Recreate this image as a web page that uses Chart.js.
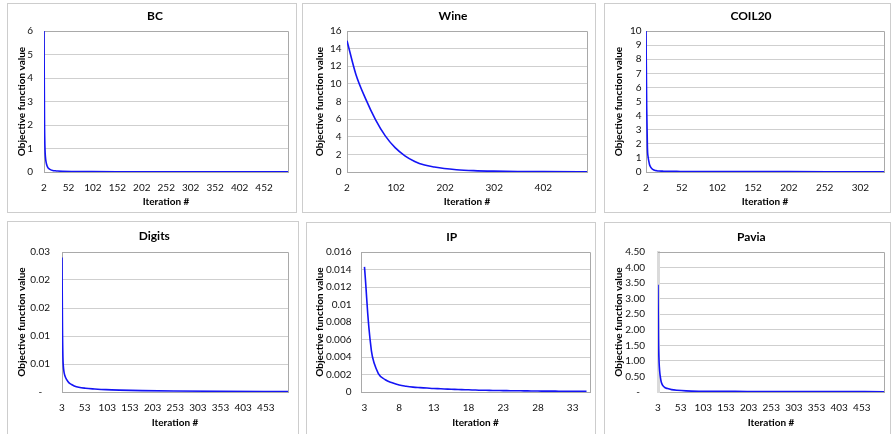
<!DOCTYPE html>
<html>
<head>
<meta charset="utf-8">
<script src="https://cdn.jsdelivr.net/npm/chart.js@4.4.1/dist/chart.umd.min.js"></script>
<style>
  html, body { margin: 0; padding: 0; background: #fff; }
  body { width: 892px; height: 434px; position: relative; overflow: hidden; }
  .panel { position: absolute; border: 1px solid #cdcdcd; background: #fff; }
  .panel canvas { position: absolute; left: 0; top: 0; }
</style>
</head>
<body>
<script>
// objective function value per iteration, one pair of arrays per dataset
var bcIter = [2, 3, 4, 5, 6, 7, 8, 10, 12, 15, 20, 25, 30, 40, 60, 100, 150, 200, 300, 400, 501];
var bcObj = [6.0, 2.2, 1.0, 0.62, 0.45, 0.35, 0.28, 0.19, 0.14, 0.1, 0.065, 0.05, 0.04, 0.03, 0.022, 0.016, 0.012, 0.01, 0.008, 0.007, 0.006];

var wineIter = [2, 20, 40, 60, 80, 100, 120, 140, 160, 180, 200, 225, 260, 300, 350, 400, 491];
var wineObj = [14.9, 11.1, 8.3, 5.95, 4.1, 2.76, 1.84, 1.2, 0.79, 0.56, 0.39, 0.26, 0.16, 0.1, 0.06, 0.04, 0.03];

var coilIter = [2, 3, 4, 5, 6, 7, 8, 9, 10, 12, 14, 17, 20, 25, 30, 50, 100, 200, 335];
var coilObj = [10, 4.5, 1.7, 1.05, 0.75, 0.52, 0.4, 0.31, 0.25, 0.17, 0.12, 0.09, 0.07, 0.06, 0.05, 0.04, 0.03, 0.025, 0.02];

var digitsIter = [3, 4, 5, 6, 7, 8, 10, 13, 18, 24, 30, 40, 55, 75, 100, 130, 180, 250, 350, 502];
var digitsObj = [0.0288, 0.014, 0.0075, 0.0055, 0.0046, 0.004, 0.0033, 0.0027, 0.002, 0.0016, 0.0013, 0.001, 0.0008, 0.00065, 0.0005, 0.0004, 0.0003, 0.00022, 0.00015, 0.0001];

var ipIter = [3, 4, 5, 6, 7, 8, 9, 10, 11, 12, 13, 14, 15, 16, 17, 18, 19, 20, 21, 22, 23, 24, 25, 26, 27, 28, 29, 30, 31, 32, 33, 34, 35];
var ipObj = [0.0143, 0.0047, 0.0021, 0.0014, 0.00105, 0.0008, 0.00066, 0.00056, 0.0005, 0.00045, 0.0004, 0.00037, 0.00033, 0.0003, 0.00027, 0.00025, 0.00022, 0.0002, 0.00019, 0.00017, 0.00016, 0.00015, 0.00014, 0.00013, 0.00012, 0.00011, 0.0001, 0.0001, 0.00009, 0.00009, 0.00008, 0.00008, 0.00007];

var paviaIter = [3, 4, 5, 6, 7, 8, 10, 13, 18, 24, 33, 45, 65, 100, 200, 300, 502];
var paviaObj = [3.45, 1.7, 1.1, 0.8, 0.62, 0.5, 0.33, 0.22, 0.145, 0.11, 0.077, 0.055, 0.035, 0.025, 0.018, 0.014, 0.01];

// x-axis tick labels (iteration #)
var bcXTicks = [2, 52, 102, 152, 202, 252, 302, 352, 402, 452];
var wineXTicks = [2, 102, 202, 302, 402];
var coilXTicks = [2, 52, 102, 152, 202, 252, 302];
var digitsXTicks = [3, 53, 103, 153, 203, 253, 303, 353, 403, 453];
var ipXTicks = [3, 8, 13, 18, 23, 28, 33];
var paviaXTicks = [3, 53, 103, 153, 203, 253, 303, 353, 403, 453];

// y-axis ticks and their printed labels
var bcYTicks = [0, 1, 2, 3, 4, 5, 6];
var bcYLabels = ["0", "1", "2", "3", "4", "5", "6"];
var wineYTicks = [0, 2, 4, 6, 8, 10, 12, 14, 16];
var wineYLabels = ["0", "2", "4", "6", "8", "10", "12", "14", "16"];
var coilYTicks = [0, 1, 2, 3, 4, 5, 6, 7, 8, 9, 10];
var coilYLabels = ["0", "1", "2", "3", "4", "5", "6", "7", "8", "9", "10"];
var digitsYTicks = [0, 0.006, 0.012, 0.018, 0.024, 0.03];
var digitsYLabels = ["-   ", "0.01", "0.01", "0.02", "0.02", "0.03"];
var ipYTicks = [0, 0.002, 0.004, 0.006, 0.008, 0.01, 0.012, 0.014, 0.016];
var ipYLabels = ["0", "0.002", "0.004", "0.006", "0.008", "0.01", "0.012", "0.014", "0.016"];
var paviaYTicks = [0, 0.5, 1, 1.5, 2, 2.5, 3, 3.5, 4, 4.5];
var paviaYLabels = ["-  ", "0.50", "1.00", "1.50", "2.00", "2.50", "3.00", "3.50", "4.00", "4.50"];

var TICK_SIZE = 10;
var AXIS_TITLE_SIZE = 10;
var TITLE_SIZE = 12;
var LINE_HEIGHT = 1.2;
var AXIS_GREY = "#a9a9a9";
var GRID_GREY = "#cfcfcf";
var CURVE_BLUE = "#1414f5";

// panel frames and plot areas in page pixels: [left, top, right, bottom]
var panels = [
  { title: "BC", iter: bcIter, values: bcObj, xTicks: bcXTicks, xMin: 2, xMax: 501,
    yTicks: bcYTicks, yLabels: bcYLabels,
    box: [7, 3, 296, 212], plot: [44, 31, 288, 172],
    titleX: 155, titleY: 16, yTitleX: 21.7, yGap: 11, xTickY: 187.3, xTitleY: 201.7 },
  { title: "Wine", iter: wineIter, values: wineObj, xTicks: wineXTicks, xMin: 2, xMax: 491,
    yTicks: wineYTicks, yLabels: wineYLabels,
    box: [302, 3, 595, 212], plot: [347, 31, 587, 172],
    titleX: 453, titleY: 16, yTitleX: 320, yGap: 5.5, xTickY: 187.3, xTitleY: 201.7 },
  { title: "COIL20", iter: coilIter, values: coilObj, xTicks: coilXTicks, xMin: 2, xMax: 335,
    yTicks: coilYTicks, yLabels: coilYLabels,
    box: [604, 3, 890, 212], plot: [646, 31, 884, 172],
    titleX: 751, titleY: 16, yTitleX: 618.7, yGap: 4.5, xTickY: 187.3, xTitleY: 201.7 },
  { title: "Digits", iter: digitsIter, values: digitsObj, xTicks: digitsXTicks, xMin: 3, xMax: 502,
    yTicks: digitsYTicks, yLabels: digitsYLabels,
    box: [7, 221, 298, 445], plot: [62, 252, 288, 392],
    titleX: 154.3, titleY: 236, yTitleX: 21.7, yGap: 12, xTickY: 407.7, xTitleY: 422.3 },
  { title: "IP", iter: ipIter, values: ipObj, xTicks: ipXTicks, xMin: 2.5, xMax: 35.5,
    yTicks: ipYTicks, yLabels: ipYLabels, tension: 0.4,
    box: [306, 222, 595, 445], plot: [361, 252, 590, 392],
    titleX: 451.7, titleY: 237.3, yTitleX: 320, yGap: 9.5, xTickY: 407.7, xTitleY: 422.3 },
  { title: "Pavia", iter: paviaIter, values: paviaObj, xTicks: paviaXTicks, xMin: 3, xMax: 502,
    yTicks: paviaYTicks, yLabels: paviaYLabels,
    box: [604, 222, 890, 445], plot: [658, 252, 884, 392],
    titleX: 751.3, titleY: 237.3, yTitleX: 618.7, yGap: 13, xTickY: 407.7, xTitleY: 422.3,
    yBorderWidth: 3, yBorderColor: "#dadada" }
];

// top and right edges of the plot area
var plotFrame = {
  id: "plotFrame",
  beforeDatasetsDraw: function (chart) {
    var a = chart.chartArea;
    var ctx = chart.ctx;
    var top = Math.round(a.top) + 0.5;
    var right = Math.round(a.right) + 0.5;
    ctx.save();
    ctx.strokeStyle = AXIS_GREY;
    ctx.lineWidth = 1;
    ctx.beginPath();
    ctx.moveTo(a.left, top);
    ctx.lineTo(right, top);
    ctx.lineTo(right, a.bottom);
    ctx.stroke();
    ctx.restore();
  }
};

function zeroPadding(scale) {
  scale.paddingLeft = 0;
  scale.paddingRight = 0;
  scale.paddingTop = 0;
  scale.paddingBottom = 0;
}

function buildPanel(p) {
  var w = p.box[2] - p.box[0] - 1;
  var h = p.box[3] - p.box[1] - 1;
  var div = document.createElement("div");
  div.className = "panel";
  div.style.left = p.box[0] + "px";
  div.style.top = p.box[1] + "px";
  div.style.width = w + "px";
  div.style.height = h + "px";
  var canvas = document.createElement("canvas");
  canvas.width = w;
  canvas.height = h;
  canvas.style.width = w + "px";
  canvas.style.height = h + "px";
  div.appendChild(canvas);
  document.body.appendChild(div);

  // canvas origin in page pixels
  var ox = p.box[0] + 1;
  var oy = p.box[1] + 1;
  var plotL = p.plot[0] - ox;
  var plotT = p.plot[1] - oy;
  var plotR = p.plot[2] - ox;
  var plotB = p.plot[3] - oy;

  var padRight = w - plotR;
  var padLeft = Math.max(0, Math.min(plotL - 1, 2 * (p.titleX - ox) - plotR));
  var titleLH = TITLE_SIZE * LINE_HEIGHT;
  var titleTop = p.titleY - oy - titleLH / 2;
  var titleBottom = plotT - titleTop - titleLH;
  var yAxisW = plotL - padLeft;
  var xAxisH = h - plotB;
  var axisLH = AXIS_TITLE_SIZE * LINE_HEIGHT;
  var tickLH = TICK_SIZE * LINE_HEIGHT;
  var xTickPad = p.xTickY - p.plot[3] - tickLH / 2;
  var xTitlePad = h - (p.xTitleY - oy) - axisLH / 2;
  var yTitlePad = (p.yTitleX - ox) - padLeft - axisLH / 2;

  var points = p.iter.map(function (x, i) {
    return { x: x, y: p.values[i] };
  });

  var dataset = {
    data: points,
    borderColor: CURVE_BLUE,
    borderWidth: 1.6,
    pointRadius: 0,
    fill: false
  };
  if (p.tension) {
    dataset.tension = p.tension;
  } else {
    dataset.cubicInterpolationMode = "monotone";
  }

  new Chart(canvas, {
    type: "line",
    data: { datasets: [dataset] },
    options: {
      responsive: false,
      animation: false,
      devicePixelRatio: 1,
      events: [],
      layout: {
        autoPadding: false,
        padding: { left: padLeft, right: padRight, top: 0, bottom: 0 }
      },
      plugins: {
        legend: { display: false },
        tooltip: { enabled: false },
        title: {
          display: true,
          text: p.title,
          color: "#000",
          font: { family: "Lato", size: TITLE_SIZE, weight: "bold", lineHeight: LINE_HEIGHT },
          padding: { top: titleTop, bottom: titleBottom }
        }
      },
      scales: {
        x: {
          type: "linear",
          bounds: "data",
          min: p.xMin,
          max: p.xMax,
          grid: { display: false, drawTicks: false },
          border: { display: true, color: AXIS_GREY, width: 1 },
          ticks: {
            autoSkip: false,
            maxRotation: 0,
            padding: xTickPad,
            color: "#111",
            font: { family: "Lato", size: TICK_SIZE, lineHeight: LINE_HEIGHT },
            callback: function (value) { return String(value); }
          },
          afterBuildTicks: function (scale) {
            scale.ticks = p.xTicks.map(function (v) { return { value: v }; });
          },
          afterFit: function (scale) {
            scale.height = xAxisH;
            zeroPadding(scale);
          },
          title: {
            display: true,
            text: "Iteration #",
            color: "#000",
            font: { family: "Lato", size: AXIS_TITLE_SIZE, weight: "bold", lineHeight: LINE_HEIGHT },
            padding: { top: 0, bottom: xTitlePad }
          }
        },
        y: {
          type: "linear",
          bounds: "data",
          min: p.yTicks[0],
          max: p.yTicks[p.yTicks.length - 1],
          grid: { color: GRID_GREY, drawTicks: false },
          border: { display: true, color: p.yBorderColor || AXIS_GREY, width: p.yBorderWidth || 1 },
          ticks: {
            autoSkip: false,
            padding: p.yGap,
            color: "#111",
            font: { family: "Lato", size: TICK_SIZE, lineHeight: LINE_HEIGHT },
            callback: function (value, index) { return p.yLabels[index]; }
          },
          afterBuildTicks: function (scale) {
            scale.ticks = p.yTicks.map(function (v) { return { value: v }; });
          },
          afterFit: function (scale) {
            scale.width = yAxisW;
            zeroPadding(scale);
          },
          title: {
            display: true,
            text: "Objective function value",
            color: "#000",
            font: { family: "Lato", size: AXIS_TITLE_SIZE, weight: "bold", lineHeight: LINE_HEIGHT },
            padding: { top: yTitlePad, bottom: 0 }
          }
        }
      }
    },
    plugins: [plotFrame]
  });
}

panels.forEach(buildPanel);
</script>
</body>
</html>
